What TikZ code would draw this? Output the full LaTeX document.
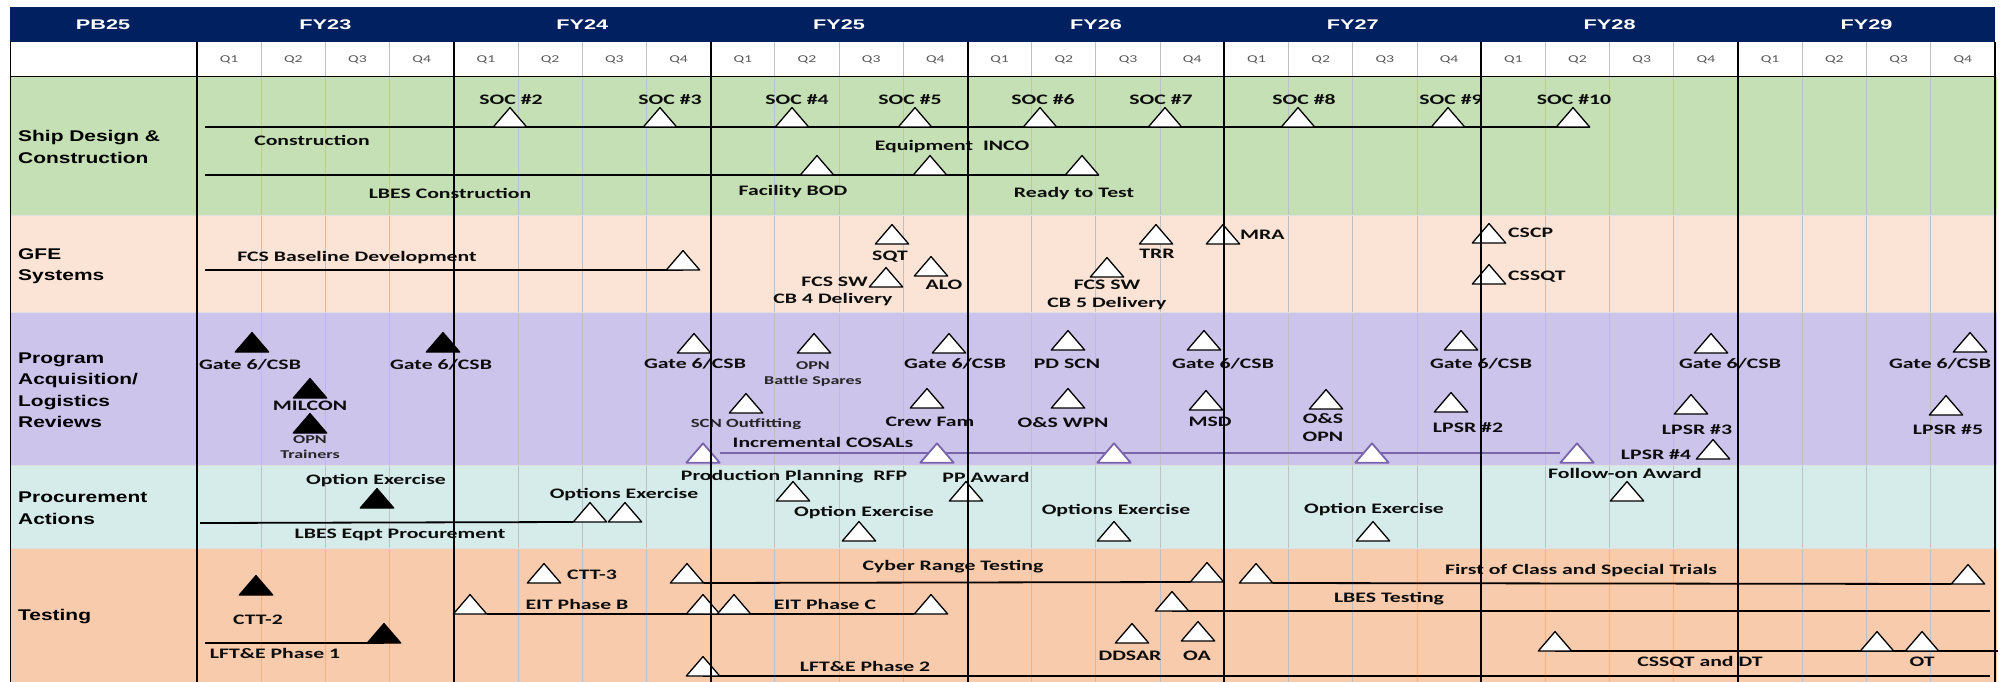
\documentclass[tikz,border=0pt]{standalone}
\usepackage{fontspec}
\usetikzlibrary{backgrounds}
\newfontfamily\labfam[FakeStretch=1.5]{Carlito}
\newfontfamily\rowfam[FakeStretch=1.35]{Liberation Sans}
\newfontfamily\hdrfam[FakeStretch=1.55]{Liberation Sans}
\newcommand\labtxt{\labfam\bfseries\fontsize{14.5}{18}\selectfont}
\newcommand\smalltxt{\labfam\bfseries\fontsize{12}{15}\selectfont}
\newcommand\qtxt{\labfam\fontsize{10.5}{12}\selectfont}
\newcommand\rowtxt{\rowfam\bfseries\fontsize{15.5}{21.5}\selectfont}
\newcommand\headtxt{\hdrfam\bfseries\fontsize{14}{16}\selectfont}

\definecolor{hdrblue}{RGB}{0,32,96}
\definecolor{shipgreen}{RGB}{197,224,180}
\definecolor{gfepeach}{RGB}{251,228,214}
\definecolor{acqpurple}{RGB}{205,196,236}
\definecolor{procblue}{RGB}{214,236,234}
\definecolor{testorange}{RGB}{248,203,173}
\definecolor{cosalline}{RGB}{120,100,170}
\definecolor{qgray}{RGB}{190,192,198}

\pgfdeclarelayer{back}
\pgfdeclarelayer{mid}
\pgfdeclarelayer{front}
\pgfsetlayers{back,mid,main,front}

\begin{document}
\begin{tikzpicture}[x=1pt, y=-1pt,
    ms/.style={inner sep=0pt, minimum width=33pt, minimum height=19pt, anchor=south,
      append after command={\pgfextra{\draw[line width=1.3pt, line join=round, fill=white, #1]
        (\tikzlastnode.south west) -- (\tikzlastnode.north) -- (\tikzlastnode.south east) -- cycle;}}},
    ms/.default={},
    msb/.style={ms={fill=black}},
    msp/.style={ms={draw=cosalline, line width=1.8pt}, anchor=center},
    lab/.style={font=\labtxt, text=black!95, inner sep=0pt},
    smalllab/.style={font=\smalltxt, text=black!85, inner sep=0pt, align=center},
    rowlab/.style={font=\rowtxt, text=black, anchor=west, align=left, inner sep=0pt},
    bar/.style={line width=1.8pt}]

    \useasboundingbox (0,0) rectangle (2007,682);

    % header
    \fill[hdrblue] (10,7) rectangle (1995,42);
    \node[font=\headtxt, text=white] (pb) at (103,25) {PB25};
    \foreach \y [count=\i from 0] in {23,...,29}
      \node[font=\headtxt, text=white] (fy\y) at ({197+(4*\i+2)*64.21},25) {FY\y};
    \foreach \i in {0,...,27} {
      \pgfmathtruncatemacro\q{mod(\i,4)+1}
      \node[font=\qtxt, text=black!65] (q\i) at ({197+(\i+0.5)*64.21},60) {Q\q};
    }

    % bands
    \begin{pgfonlayer}{back}
      \fill[shipgreen] (10,77) rectangle (1997,215);
      \fill[gfepeach] (10,215) rectangle (1997,312);
      \fill[acqpurple] (10,312) rectangle (1997,465);
      \fill[procblue] (10,465) rectangle (1997,548);
      \fill[testorange] (10,548) rectangle (1997,682);
      \foreach \i in {1,...,27}
        \draw[qgray, line width=1pt] ({197+\i*64.21},42) -- ({197+\i*64.21},682);
      \foreach \yy in {215,312,465,548}
        \draw[gray!25, line width=1pt] (10,\yy) -- (1997,\yy);
    \end{pgfonlayer}

    % row names
    \node[rowlab] (r1) at (18,147) {Ship Design \&\\Construction};
    \node[rowlab] (r2) at (18,266) {GFE\\Systems};
    \node[rowlab] (r3) at (18,390) {Program\\Acquisition/\\Logistics\\Reviews};
    \node[rowlab] (r4) at (18,508) {Procurement\\Actions};
    \node[rowlab] (r5) at (18,617) {Testing};

    % ship design & construction
    \coordinate (c1) at (205,127);
    \coordinate (c2) at (205,175);
    \node[ms] (soc2) at (510,127) {};
    \node[ms] (soc3) at (660,127) {};
    \node[ms] (soc4) at (792,127) {};
    \node[ms] (soc5) at (915,127) {};
    \node[ms] (soc6) at (1040,127) {};
    \node[ms] (soc7) at (1165,127) {};
    \node[ms] (soc8) at (1298,127) {};
    \node[ms] (soc9) at (1448,127) {};
    \node[ms] (soc10) at (1573,127) {};
    \node[lab] (soc2l) at (511,100) {SOC \#2};
    \node[lab] (soc3l) at (670,100) {SOC \#3};
    \node[lab] (soc4l) at (797,100) {SOC \#4};
    \node[lab] (soc5l) at (910,100) {SOC \#5};
    \node[lab] (soc6l) at (1043,100) {SOC \#6};
    \node[lab] (soc7l) at (1161,100) {SOC \#7};
    \node[lab] (soc8l) at (1304,100) {SOC \#8};
    \node[lab] (soc9l) at (1451,100) {SOC \#9};
    \node[lab] (soc10l) at (1574,100) {SOC \#10};
    \node[lab] (constl) at (312,140) {Construction};
    \node[ms] (fbod) at (817,175) {};
    \node[ms] (inco) at (930,175) {};
    \node[ms] (rtt) at (1082,175) {};
    \node[lab] (fbodl) at (793,192) {Facility BOD};
    \node[lab] (incol) at (952,147) {Equipment~ INCO};
    \node[lab] (rttl) at (1074,194) {Ready to Test};
    \node[lab] (lbescl) at (450,193) {LBES Construction};

    % gfe systems
    \coordinate (c3) at (205,270);
    \node[ms] (fcsb) at (683,270) {};
    \node[lab] (fcsbl) at (357,258) {FCS Baseline Development};
    \node[ms] (sqt) at (892,244) {};
    \node[lab] (sqtl) at (890,257) {SQT};
    \node[ms] (cb4) at (886,287) {};
    \node[lab, anchor=east] (cb4a) at (868,282) {FCS SW};
    \node[lab] (cb4b) at (833,300) {CB 4 Delivery};
    \node[ms] (alo) at (931,276) {};
    \node[lab] (alol) at (944,285) {ALO};
    \node[ms] (trr) at (1156,244) {};
    \node[lab] (trrl) at (1157,254) {TRR};
    \node[ms] (cb5) at (1107,277) {};
    \node[lab, align=center] (cb5l) at (1107,295) {FCS SW\\CB 5 Delivery};
    \node[ms] (mra) at (1223,244) {};
    \node[lab, anchor=west] (mral) at (1240,235) {MRA};
    \node[ms] (cscp) at (1489,243) {};
    \node[lab, anchor=west] (cscpl) at (1508,233) {CSCP};
    \node[ms] (cssqt) at (1489,284) {};
    \node[lab, anchor=west] (cssqtl) at (1508,277) {CSSQT};

    % program acquisition / logistics reviews
    \node[msb] (g1) at (252,352) {};
    \node[lab] (g1l) at (250,365) {Gate 6/CSB};
    \node[msb] (g2) at (443,352) {};
    \node[lab] (g2l) at (441,365) {Gate 6/CSB};
    \node[msb] (milcon) at (310,398) {};
    \node[lab] (milconl) at (310,406) {MILCON};
    \node[msb] (opnt) at (310,433) {};
    \node[smalllab] (opntl) at (310,447.5) {OPN\\Trainers};
    \node[ms] (g3) at (694,353) {};
    \node[lab] (g3l) at (695,364) {Gate 6/CSB};
    \node[ms] (opnbs) at (814,353) {};
    \node[smalllab] (opnbsl) at (813,374.5) {OPN\\Battle Spares};
    \node[ms] (g4) at (949,353) {};
    \node[lab] (g4l) at (955,364) {Gate 6/CSB};
    \node[ms] (scn) at (746,413) {};
    \node[smalllab, font=\labfam\bfseries\fontsize{12.5}{15}\selectfont] (scnl) at (746,424) {SCN Outfitting};
    \node[ms] (crew) at (927,408) {};
    \node[lab] (crewl) at (930,422) {Crew Fam};
    \node[msp] (cos1) at (703,453) {};
    \node[msp] (cos2) at (937,453) {};
    \node[msp] (cos3) at (1114,453) {};
    \node[msp] (cos4) at (1372,453) {};
    \node[msp] (cos5) at (1577,453) {};
    \node[lab] (cosl) at (823,442) {Incremental COSALs};
    \node[ms] (pdscn) at (1068,350) {};
    \node[lab] (pdscnl) at (1067,364) {PD SCN};
    \node[ms] (oswpn) at (1068,408) {};
    \node[lab] (oswpnl) at (1063,423) {O\&S WPN};
    \node[ms] (g5) at (1204,350) {};
    \node[lab] (g5l) at (1223,364) {Gate 6/CSB};
    \node[ms] (msd) at (1206,410) {};
    \node[lab] (msdl) at (1210,422) {MSD};
    \node[ms] (osopn) at (1326,409) {};
    \node[lab, align=center] (osopnl) at (1323,427.5) {O\&S\\OPN};
    \node[ms] (g6) at (1461,350) {};
    \node[lab] (g6l) at (1481,364) {Gate 6/CSB};
    \node[ms] (lpsr2) at (1451,412) {};
    \node[lab] (lpsr2l) at (1468,428) {LPSR \#2};
    \node[ms] (g7) at (1711,353) {};
    \node[lab] (g7l) at (1730,364) {Gate 6/CSB};
    \node[ms] (lpsr3) at (1691,414) {};
    \node[lab] (lpsr3l) at (1697,430) {LPSR \#3};
    \node[ms] (lpsr4) at (1713,459) {};
    \node[lab] (lpsr4l) at (1656,455) {LPSR \#4};
    \node[ms] (g8) at (1970,352) {};
    \node[lab] (g8l) at (1940,364) {Gate 6/CSB};
    \node[ms] (lpsr5) at (1946,415) {};
    \node[lab] (lpsr5l) at (1948,430) {LPSR \#5};

    % procurement actions
    \coordinate (c4) at (200,523);
    \node[msb] (optex) at (377,508) {};
    \node[lab] (optexl) at (376,481) {Option Exercise};
    \node[ms] (opt1) at (590,522) {};
    \node[ms] (opt2) at (625,522) {};
    \node[lab] (opt1l) at (624,495) {Options Exercise};
    \node[lab] (lbespl) at (400,535) {LBES Eqpt Procurement};
    \node[ms] (rfp) at (793,501) {};
    \node[lab] (rfpl) at (794,477) {Production Planning~ RFP};
    \node[ms] (ppaw) at (966,501) {};
    \node[lab] (ppawl) at (986,477) {PP Award};
    \node[ms] (opt3) at (859,541) {};
    \node[lab] (opt3l) at (864,513) {Option Exercise};
    \node[ms] (opt4) at (1114,541) {};
    \node[lab] (opt4l) at (1116,511) {Options Exercise};
    \node[ms] (opt5) at (1373,541) {};
    \node[lab] (opt5l) at (1374,510) {Option Exercise};
    \node[ms] (follow) at (1627,501) {};
    \node[lab] (followl) at (1625,473) {Follow-on Award};

    % testing
    \coordinate (c5) at (205,643);
    \coordinate (e1) at (1990,611);
    \coordinate (e2) at (1990,676);
    \coordinate (e3) at (1998,651);
    \node[msb] (ctt2) at (256,595) {};
    \node[lab] (ctt2l) at (258,620) {CTT-2};
    \node[msb] (lft1) at (384,643) {};
    \node[lab] (lft1l) at (275,653) {LFT\&E Phase 1};
    \node[ms] (ctt3) at (544,583) {};
    \node[lab, anchor=west] (ctt3l) at (567,575) {CTT-3};
    \node[ms] (eitb) at (470,614) {};
    \node[ms] (eit2) at (703,614) {};
    \node[ms] (eit3) at (734,614) {};
    \node[ms] (eitc) at (931,614) {};
    \node[lab] (eitbl) at (577,604) {EIT Phase B};
    \node[lab] (eitcl) at (825,604) {EIT Phase C};
    \node[ms] (cyb1) at (687,583) {};
    \node[ms] (cyb2) at (1207,582) {};
    \node[lab] (cybl) at (953,567) {Cyber Range Testing};
    \node[ms] (foc1) at (1256,583) {};
    \node[ms] (foc2) at (1968,584) {};
    \node[lab] (focl) at (1581,571) {First of Class and Special Trials};
    \node[ms] (lbt) at (1172,611) {};
    \node[lab] (lbtl) at (1389,599) {LBES Testing};
    \node[ms] (ddsar) at (1132,643) {};
    \node[lab] (ddsarl) at (1130,656) {DDSAR};
    \node[ms] (oa) at (1198,641) {};
    \node[lab] (oal) at (1197,656) {OA};
    \node[ms] (lft2) at (703,676) {};
    \node[lab] (lft2l) at (865,666) {LFT\&E Phase 2};
    \node[ms] (cs1) at (1555,651) {};
    \node[ms] (cs2) at (1877,651) {};
    \node[ms] (ot) at (1922,651) {};
    \node[lab] (csl) at (1700,662) {CSSQT and DT};
    \node[lab] (otl) at (1922,662) {OT};

    % bars
    \begin{pgfonlayer}{mid}
      \draw[bar] (c1) -- (soc10.south east);
      \draw[bar] (c2) -- (rtt.south east);
      \draw[bar] (c3) -- (fcsb.south);
      \draw[line width=1.5pt, cosalline] (cos1) -- (cos5);
      \draw[bar] (c4) -- (opt1.south west);
      \draw[bar] (c5) -- (lft1.south);
      \draw[bar] (eitb.south east) -- (eitc.south west);
      \draw[bar] (cyb1.south east) -- (cyb2.south west);
      \draw[bar] (foc1.south east) -- (foc2.south west);
      \draw[bar] (lbt.south) -- (e1);
      \draw[bar] (lft2.south) -- (e2);
      \draw[bar] (cs1.south) -- (e3);
    \end{pgfonlayer}

    % year lines
    \begin{pgfonlayer}{front}
      \foreach \i in {0,4,...,28}
        \draw[line width=2pt] ({197+\i*64.21},42) -- ({197+\i*64.21},682);
      \draw[line width=1pt] (10,42) -- (10,682);
      \draw[line width=1pt] (10,77) -- (1996,77);
    \end{pgfonlayer}

\end{tikzpicture}
\end{document}
